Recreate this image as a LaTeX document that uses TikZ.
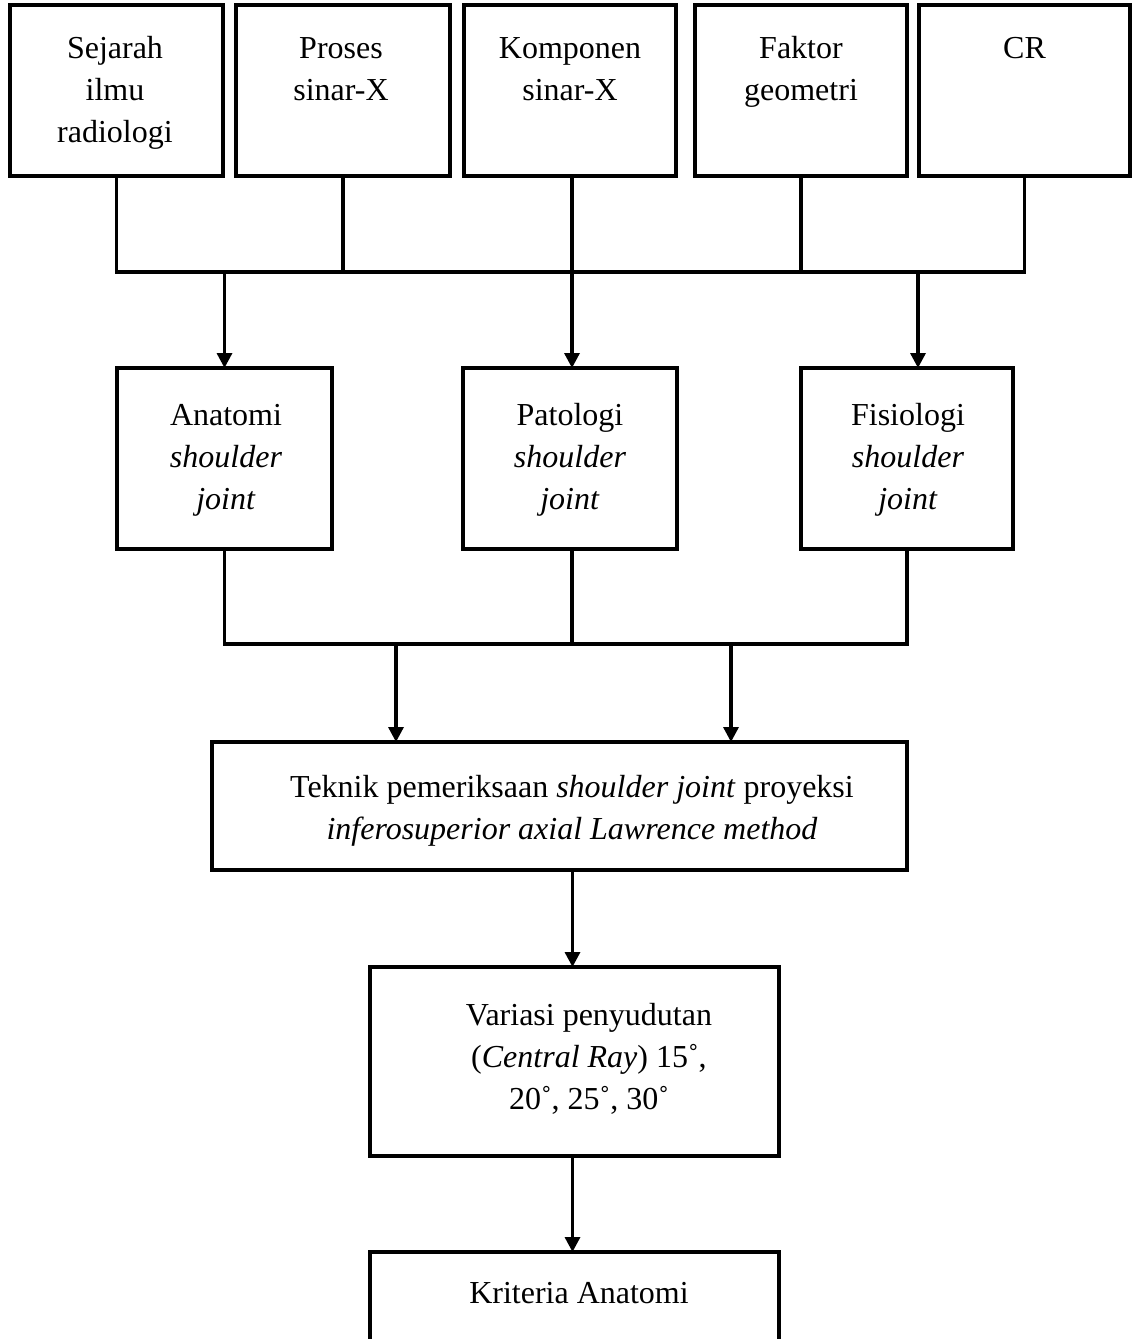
\documentclass[tikz,border=0pt]{standalone}
\usepackage{fontspec}
\setmainfont{Liberation Serif}
\usetikzlibrary{arrows.meta}
\begin{document}
\begin{tikzpicture}[x=1pt,y=-1pt,
  box/.style={draw, line width=3.3pt, rectangle, inner sep=0pt, outer sep=0pt, anchor=north west},
  txt/.style={font=\fontsize{32}{42}\selectfont, align=center, inner sep=0pt, anchor=north},
  conn/.style={line width=3.3pt},
  arr/.style={line width=3.3pt, -{Triangle[length=15pt,width=15pt]}}]
\useasboundingbox (0,0) rectangle (1132,1339);
\fill[white] (0,0) rectangle (1132,1339);
\clip (0,0) rectangle (1132,1339);
% top row
\node[box, minimum width=213pt, minimum height=171pt] (b1) at (10,5) {};
\node[box, minimum width=214pt, minimum height=171pt] (b2) at (236,5) {};
\node[box, minimum width=212pt, minimum height=171pt] (b3) at (464,5) {};
\node[box, minimum width=212pt, minimum height=171pt] (b4) at (695,5) {};
\node[box, minimum width=211pt, minimum height=171pt] (b5) at (919,5) {};
\node[txt] (t1) at (115,28.6) {\strut Sejarah\\ilmu\\radiologi};
\node[txt] (t2) at (341,28.6) {\strut Proses\\sinar-X};
\node[txt] (t3) at (570,28.6) {\strut Komponen\\sinar-X};
\node[txt] (t4) at (801,28.6) {\strut Faktor\\geometri};
\node[txt] (t5) at (1024.5,28.6) {\strut CR};
% middle row
\node[box, minimum width=215pt, minimum height=181pt] (m1) at (117,368) {};
\node[box, minimum width=214pt, minimum height=181pt] (m2) at (463,368) {};
\node[box, minimum width=212pt, minimum height=181pt] (m3) at (801,368) {};
\node[txt] (mt1) at (226,395.6) {\strut Anatomi\\\textit{shoulder}\\\textit{joint}};
\node[txt] (mt2) at (570,395.6) {\strut Patologi\\\textit{shoulder}\\\textit{joint}};
\node[txt] (mt3) at (908,395.6) {\strut Fisiologi\\\textit{shoulder}\\\textit{joint}};
% lower boxes
\node[box, minimum width=695pt, minimum height=128pt] (t) at (212,742) {};
\node[txt] (tt) at (572,767.6) {\strut Teknik pemeriksaan \textit{shoulder joint} proyeksi\\\textit{inferosuperior axial Lawrence method}};
\node[box, minimum width=409pt, minimum height=189pt] (v) at (370,967) {};
\node[txt] (vt) at (589,995.6) {\strut Variasi penyudutan\\(\textit{Central Ray}) 15˚,\\20˚, 25˚, 30˚};
\node[box, minimum width=409pt, minimum height=150pt] (k) at (370,1252) {};
\node[txt] (kt) at (579,1273.6) {\strut Kriteria Anatomi};
% bus coordinates
\coordinate (bus1) at (0,272);
\coordinate (bus2) at (0,644);
% top connectors
\draw[conn] (b1.south) -- (b1.south |- bus1) -- (b5.south |- bus1) -- (b5.south);
\draw[conn] (b2.south) -- (b2.south |- bus1);
\draw[conn] ([xshift=2pt]b3.south) -- ([xshift=2pt]b3.south |- bus1);
\draw[conn] (b4.south) -- (b4.south |- bus1);
\draw[arr] (m1.north |- bus1) -- (m1.north);
\draw[arr] ([xshift=2pt]m2.north |- bus1) -- ([xshift=2pt]m2.north);
\draw[arr] ([xshift=11pt]m3.north |- bus1) -- ([xshift=11pt]m3.north);
% middle connectors
\draw[conn] (m1.south) -- (m1.south |- bus2) -- (m3.south |- bus2) -- (m3.south);
\draw[conn] ([xshift=2pt]m2.south) -- ([xshift=2pt]m2.south |- bus2);
\draw[arr] ([xshift=184pt]t.north west |- bus2) -- ([xshift=184pt]t.north west);
\draw[arr] ([xshift=519pt]t.north west |- bus2) -- ([xshift=519pt]t.north west);
% lower connectors
\draw[arr] ([xshift=-2pt]v.north |- t.south) -- ([xshift=-2pt]v.north);
\draw[arr] ([xshift=-2pt]v.south) -- ([xshift=-2pt]k.north);
\end{tikzpicture}
\end{document}
